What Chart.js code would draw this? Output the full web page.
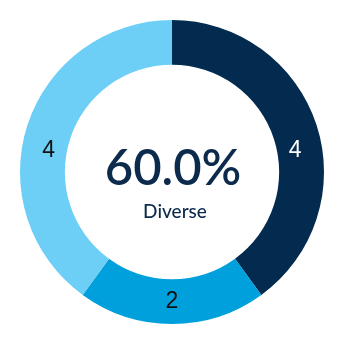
<!DOCTYPE html>
<html>
<head>
<meta charset="utf-8">
<script src="https://cdn.jsdelivr.net/npm/chart.js@4/dist/chart.umd.min.js"></script>
<style>
html,body{margin:0;padding:0;background:#fff;}
#wrap{width:344px;height:344px;position:relative;}
</style>
</head>
<body>
<div id="wrap"><canvas id="c" width="344" height="344"></canvas></div>
<script>
const categories = ["Diverse A", "Diverse B", "Not diverse"];
const values = [4, 2, 4];
const colors = ["#032B4F", "#00A0DC", "#6DCFF6"];
const labelColors = ["#ffffff", "#111111", "#111111"];
const centerLabel = "Diverse";
const diverseCount = 2; // first two categories are diverse

const total = values.reduce((a, b) => a + b, 0);
const pct = (values.slice(0, diverseCount).reduce((a, b) => a + b, 0) / total * 100).toFixed(1) + "%";

const centerText = {
  id: "centerText",
  afterDraw(chart) {
    const ctx = chart.ctx;
    const meta = chart.getDatasetMeta(0);
    const arc0 = meta.data[0];
    const cx = arc0.x, cy = arc0.y;
    ctx.save();
    ctx.textAlign = "center";
    ctx.textBaseline = "alphabetic";
    ctx.fillStyle = "#0B2A4C";
    ctx.font = "600 49px Lato, 'Noto Sans', sans-serif";
    ctx.fillText(pct, cx + 1, cy + 13);
    ctx.font = "500 19px Lato, 'Noto Sans', sans-serif";
    ctx.fillText(centerLabel, cx + 3, cy + 46);
    // segment labels
    ctx.font = "400 23px 'Liberation Sans', Arial, sans-serif";
    ctx.textBaseline = "middle";
    meta.data.forEach((arc, i) => {
      const p = arc.getProps(["startAngle", "endAngle", "innerRadius", "outerRadius"], true);
      const mid = (p.startAngle + p.endAngle) / 2;
      const r = (p.innerRadius + p.outerRadius) / 2;
      const x = cx + Math.cos(mid) * r;
      const y = cy + Math.sin(mid) * r + 20 * Math.abs(Math.cos(mid));
      ctx.fillStyle = labelColors[i];
      ctx.fillText(String(values[i]), x, y);
    });
    ctx.restore();
  }
};

new Chart(document.getElementById("c"), {
  type: "doughnut",
  data: {
    labels: categories,
    datasets: [{
      data: values,
      backgroundColor: colors,
      borderWidth: 0
    }]
  },
  options: {
    responsive: false,
    animation: false,
    cutout: "70.5%",
    layout: { padding: 20 },
    plugins: {
      legend: { display: false },
      tooltip: { enabled: false }
    }
  },
  plugins: [centerText]
});
</script>
</body>
</html>
